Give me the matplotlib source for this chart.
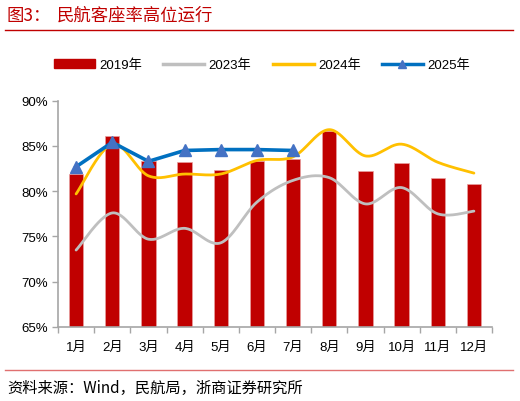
import numpy as np
import matplotlib
matplotlib.use("Agg")
import matplotlib.pyplot as plt
from matplotlib.lines import Line2D
from matplotlib.patches import Patch

plt.rcParams['font.family'] = ['Liberation Sans', 'Noto Sans CJK SC', 'DejaVu Sans']

months = ['1月', '2月', '3月', '4月', '5月', '6月', '7月', '8月', '9月', '10月', '11月', '12月']
y2019 = [81.9, 86.1, 83.3, 83.2, 82.3, 83.3, 83.6, 86.6, 82.2, 83.1, 81.5, 80.8]
y2023 = [73.5, 77.6, 74.7, 75.9, 74.3, 78.8, 81.2, 81.5, 78.6, 80.4, 77.5, 77.8]
y2024 = [79.7, 85.2, 81.7, 81.9, 81.9, 83.4, 83.8, 86.8, 83.9, 85.2, 83.2, 82.0]
y2025 = [82.7, 85.4, 83.3, 84.5, 84.6, 84.6, 84.5]
series_labels = ['2019年', '2023年', '2024年', '2025年']
yticks = [65, 70, 75, 80, 85, 90]


def smooth(xs, ys, n=30):
    xs = np.asarray(xs, float)
    ys = np.asarray(ys, float)
    P = np.column_stack([xs, ys])
    out = []
    for i in range(len(P) - 1):
        p0 = P[i - 1] if i > 0 else P[i]
        p1 = P[i]
        p2 = P[i + 1]
        p3 = P[i + 2] if i + 2 < len(P) else P[i + 1]
        c1 = p1 + (p2 - p0) / 6.0
        c2 = p2 - (p3 - p1) / 6.0
        t = np.linspace(0, 1, n)[:, None]
        seg = ((1 - t) ** 3) * p1 + 3 * ((1 - t) ** 2) * t * c1 + 3 * (1 - t) * t ** 2 * c2 + t ** 3 * p2
        out.append(seg if i == 0 else seg[1:])
    out = np.vstack(out)
    return out[:, 0], out[:, 1]


fig = plt.figure(figsize=(5.2, 4.02), dpi=100)
ax = fig.add_axes([58 / 520, 1 - 328 / 402, 434 / 520, (328 - 101.7) / 402])

x = np.arange(len(months))
red = '#C00000'
gray = '#BFBFBF'
yellow = '#FFC000'
blue = '#0070C0'
tri = '#4472C4'

ax.bar(x, [v - 65 for v in y2019], bottom=65, width=0.4, color=red, zorder=2,
       edgecolor='#E8A0A0', linewidth=0.5)
sx, sy = smooth(x, y2023)
ax.plot(sx, sy, color=gray, lw=2.0, zorder=3, solid_capstyle='round')
sx, sy = smooth(x, y2024)
ax.plot(sx, sy, color=yellow, lw=2.0, zorder=4, solid_capstyle='round')
ax.plot(x[:len(y2025)], y2025, color=blue, lw=2.6, zorder=5,
        marker='^', markersize=9, markerfacecolor=tri, markeredgecolor=tri)

ax.set_xlim(-0.5, len(months) - 0.5)
ax.set_ylim(65, 90)
ax.set_yticks(yticks)
ax.set_yticklabels([f'{v}%' for v in yticks], fontsize=9.5, color='#000000')
ax.set_xticks(x)
ax.set_xticklabels(months, fontsize=9.5, family=['Liberation Sans', 'Noto Sans CJK SC'])
ax.set_xticks(np.arange(-0.5, len(months), 1.0), minor=True)
ax.tick_params(axis='x', which='major', length=0, pad=10)
ax.tick_params(axis='x', which='minor', length=4, color='#A6A6A6', width=1)
ax.tick_params(axis='y', length=4, color='#A6A6A6', width=1, pad=3)
for s in ['top', 'right']:
    ax.spines[s].set_visible(False)
for s in ['left', 'bottom']:
    ax.spines[s].set_color('#A6A6A6')
    ax.spines[s].set_linewidth(1.2)

handles = [
    Patch(facecolor=red, edgecolor=red),
    Line2D([], [], color=gray, lw=2.5),
    Line2D([], [], color=yellow, lw=2.5),
    Line2D([], [], color=blue, lw=2.5, marker='^', markersize=6,
           markerfacecolor=tri, markeredgecolor=tri),
]
leg = fig.legend(handles, series_labels, loc='center', bbox_to_anchor=(262 / 520, 1 - 66 / 402),
                 ncol=4, frameon=False, handlelength=3.1, handleheight=0.6,
                 handletextpad=0.35, columnspacing=1.6,
                 prop={'family': ['Liberation Sans', 'Noto Sans CJK SC'], 'size': 9.5})

fig.text(7 / 520, 1 - 16 / 402, '图3：', fontsize=12.5, color=red, va='center',
         family=['Noto Sans CJK SC'])
fig.text(57 / 520, 1 - 16 / 402, '民航客座率高位运行', fontsize=12.5, color=red, va='center',
         family=['Noto Sans CJK SC'])
fig.add_artist(Line2D([5 / 520, 513 / 520], [1 - 31 / 402, 1 - 31 / 402], color=red, lw=1.0))
fig.add_artist(Line2D([5 / 520, 513 / 520], [1 - 371 / 402, 1 - 371 / 402], color='#E07070', lw=1.0))
fig.text(7 / 520, 1 - 388 / 402, '资料来源：Wind，民航局，浙商证券研究所', fontsize=11, color='black',
         va='center', family=['Noto Sans CJK SC', 'DejaVu Sans'])

fig.savefig('out.png', dpi=100)
